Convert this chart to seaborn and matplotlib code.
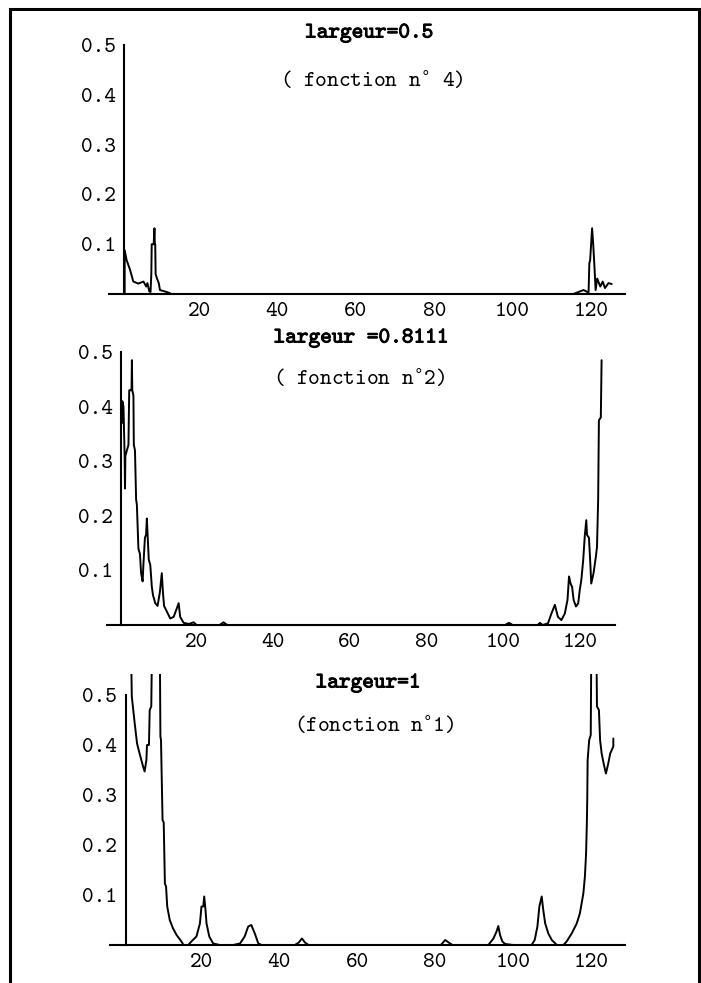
import matplotlib
matplotlib.use("Agg")
import matplotlib.pyplot as plt
import matplotlib.patheffects as pe
import seaborn as sns

# --- data ---
# fonction n° 4, largeur = 0.5
x_f4 = [1.0, 1.0, 1.5, 2.4, 3.2, 4.5, 5.8, 6.5, 6.8, 7.3, 7.6, 7.8, 7.9, 8.4, 8.6, 8.7,
        8.8, 8.9, 9.3, 9.7, 10.0, 10.9, 12.1, 13.0, 115.5, 118.1, 119.4, 119.6, 119.8,
        120.3, 120.6, 120.9, 121.2, 121.6, 122.4, 123.0, 123.6, 124.5, 125.3]
y_f4 = [0.0, 0.088, 0.068, 0.048, 0.025, 0.021, 0.025, 0.015, 0.022, 0.005, 0.004, 0.04,
        0.1, 0.1, 0.132, 0.1, 0.1, 0.04, 0.03, 0.022, 0.008, 0.006, 0.003, 0.0, 0.0,
        0.008, 0.003, 0.062, 0.068, 0.132, 0.098, 0.055, 0.008, 0.031, 0.015, 0.025,
        0.012, 0.022, 0.02]

# fonction n°2, largeur = 0.8111
x_f2 = [0.5, 0.6, 0.9, 1.0, 1.2, 1.3, 1.4, 1.8, 2.2, 2.4, 2.7, 3.0, 3.1, 3.2, 3.5, 3.6,
        3.9, 4.2, 4.4, 4.8, 5.2, 5.5, 5.9, 6.1, 6.5, 6.8, 7.0, 7.2, 7.5, 7.9, 8.3, 8.6,
        9.2, 9.8, 10.4, 10.9, 11.2, 11.5, 12.2, 13.1, 14.0, 14.8, 15.3, 15.7, 16.6, 18.0,
        19.2, 20.0, 26.0, 27.0, 28.0, 100.5, 101.5, 102.5, 109.0, 109.6, 110.3, 111.7,
        112.6, 113.5, 114.3, 115.2, 116.1, 116.8, 117.2, 117.6, 118.0, 118.4, 119.0,
        119.6, 120.0, 120.4, 120.9, 121.3, 121.7, 121.9, 122.4, 122.8, 123.0, 123.6,
        124.2, 124.5, 124.8, 125.0, 125.5, 125.7]
y_f2 = [0.37, 0.41, 0.40, 0.37, 0.31, 0.25, 0.31, 0.32, 0.33, 0.43, 0.43, 0.43, 0.485,
        0.43, 0.42, 0.33, 0.32, 0.23, 0.22, 0.14, 0.13, 0.095, 0.08, 0.11, 0.16, 0.165,
        0.195, 0.165, 0.12, 0.11, 0.07, 0.055, 0.04, 0.035, 0.06, 0.095, 0.06, 0.035,
        0.025, 0.012, 0.015, 0.03, 0.04, 0.015, 0.004, 0.002, 0.005, 0.0, 0.0, 0.005,
        0.0, 0.0, 0.004, 0.0, 0.0, 0.004, 0.0, 0.003, 0.021, 0.037, 0.015, 0.009, 0.021,
        0.046, 0.089, 0.076, 0.07, 0.046, 0.034, 0.04, 0.064, 0.082, 0.119, 0.162,
        0.192, 0.165, 0.16, 0.107, 0.076, 0.095, 0.125, 0.143, 0.229, 0.375, 0.38, 0.485]

# fonction n°1, largeur = 1 (goes off the top near both ends)
x_f1 = [1.9, 2.1, 2.85, 3.45, 4.1, 5.0, 5.4, 5.85, 6.0, 6.5, 6.7, 7.1, 7.3, 8.3, 9.3,
        9.45, 9.6, 10.0, 10.3, 10.6, 10.9, 11.2, 11.85, 12.7, 13.6, 14.85, 15.4, 16.6,
        17.4, 18.7, 19.6, 20.0, 20.45, 20.7, 21.0, 21.3, 22.0, 23.0, 24.7, 28.1, 29.9,
        31.1, 32.0, 32.8, 33.7, 34.6, 35.5, 44.0, 45.0, 45.8, 46.6, 47.5, 81.5, 82.6,
        83.5, 84.5, 93.7, 95.0, 95.8, 96.25, 96.7, 97.3, 98.0, 100.1, 104.8, 105.6,
        106.3, 106.8, 107.4, 107.8, 108.3, 109.1, 110.0, 111.3, 113.0, 113.8, 115.1,
        116.4, 117.2, 118.1, 118.5, 118.8, 119.0, 119.1, 119.2, 119.6, 120.0, 120.15,
        120.8, 121.45, 121.6, 122.1, 122.4, 122.8, 123.4, 123.9, 124.5, 125.0, 125.4,
        125.8, 125.8]
y_f1 = [0.6, 0.497, 0.443, 0.403, 0.383, 0.357, 0.347, 0.37, 0.40, 0.40, 0.47, 0.477,
        0.6, 0.7, 0.6, 0.417, 0.41, 0.25, 0.245, 0.123, 0.117, 0.077, 0.05, 0.033, 0.02,
        0.007, 0.0, 0.0, 0.007, 0.017, 0.043, 0.077, 0.077, 0.097, 0.073, 0.043, 0.017,
        0.003, 0.0, 0.0, 0.003, 0.017, 0.037, 0.04, 0.023, 0.003, 0.0, 0.0, 0.005, 0.013,
        0.005, 0.0, 0.0, 0.01, 0.005, 0.0, 0.0, 0.013, 0.027, 0.038, 0.02, 0.007, 0.002,
        0.0, 0.0, 0.01, 0.037, 0.077, 0.097, 0.07, 0.043, 0.023, 0.01, 0.0, 0.0, 0.007,
        0.023, 0.043, 0.063, 0.103, 0.137, 0.183, 0.243, 0.29, 0.37, 0.41, 0.42, 0.6,
        0.7, 0.6, 0.477, 0.47, 0.41, 0.383, 0.36, 0.343, 0.363, 0.383, 0.39, 0.397, 0.413]

titles = ["largeur=0.5", "largeur =0.8111", "largeur=1"]
# degree sign drawn through mathtext (the typewriter font has no ° glyph)
subtitles = [r"( fonction n$^{\circ}$ 4)", r"( fonction n$^{\circ}$2)", r"(fonction n$^{\circ}$1)"]
y_ticks = [0.1, 0.2, 0.3, 0.4, 0.5]
y_tick_labels = ["0.1", "0.2", "0.3", "0.4", "0.5"]
x_ticks = [20, 40, 60, 80, 100, 120]

series = [(x_f4, y_f4), (x_f2, y_f2), (x_f1, y_f1)]

# pixel layout of each panel in the 701x983 page
W, H = 701, 983
layout = [
    dict(px=(109, 625), xlim=(-3.0, 128.7), py=(45, 299), ylim=(-0.01, 0.5), yaxis_at=0.8,
         title_xy=(369, 33), sub_xy=(372, 80)),
    dict(px=(107, 615), xlim=(-3.4, 129.2), py=(352, 630.5), ylim=(-0.01, 0.5), yaxis_at=0.3,
         title_xy=(361, 338), sub_xy=(359, 378)),
    dict(px=(110, 625), xlim=(-3.5, 128.8), py=(673.5, 950), ylim=(-0.01, 0.543), yaxis_at=0.5,
         title_xy=(368, 683), sub_xy=(374, 725)),
]

sns.set_style("white")
plt.rcParams["font.family"] = ["cmtt10", "DejaVu Sans Mono"]
plt.rcParams["mathtext.fontset"] = "dejavusans"
plt.rcParams["axes.unicode_minus"] = False

fig = plt.figure(figsize=(W / 100, H / 100), dpi=100)
fig.patch.set_facecolor("white")

for (xs, ys), lay, title, sub in zip(series, layout, titles, subtitles):
    left = lay["px"][0] / W
    width = (lay["px"][1] - lay["px"][0]) / W
    bottom = 1 - lay["py"][1] / H
    height = (lay["py"][1] - lay["py"][0]) / H
    ax = fig.add_axes([left, bottom, width, height])
    ax.patch.set_alpha(0)

    sns.lineplot(x=xs, y=ys, ax=ax, color="black", linewidth=1.4,
                 estimator=None, sort=False)

    ax.set_xlim(*lay["xlim"])
    ax.set_ylim(*lay["ylim"])
    ax.set_xticks(x_ticks)
    ax.set_xticklabels([str(t) for t in x_ticks])
    ax.set_yticks(y_ticks)
    ax.set_yticklabels(y_tick_labels)

    for side in ["top", "right"]:
        ax.spines[side].set_visible(False)
    ax.spines["left"].set_position(("data", lay["yaxis_at"]))
    ax.spines["left"].set_bounds(0, 0.5)
    ax.spines["bottom"].set_position(("data", 0))
    for side in ["left", "bottom"]:
        ax.spines[side].set_linewidth(1.5)
        ax.spines[side].set_color("black")

    ax.tick_params(axis="both", direction="inout", length=6, width=1.2,
                   colors="black", labelsize=16, pad=3)
    ax.grid(False)

    fig.text(lay["title_xy"][0] / W, 1 - lay["title_xy"][1] / H, title,
             ha="center", va="center", fontsize=16, color="black",
             path_effects=[pe.withStroke(linewidth=0.7, foreground="black")])
    fig.text(lay["sub_xy"][0] / W, 1 - lay["sub_xy"][1] / H, sub,
             ha="center", va="center", fontsize=16, color="black")

# page frame of the scan
frame = plt.Rectangle((10 / W, -0.05), (699 - 10) / W, 1 - 9 / H + 0.05,
                      transform=fig.transFigure, fill=False, linewidth=2.2,
                      edgecolor="black")
fig.add_artist(frame)

fig.savefig("out.png", dpi=100, facecolor="white")
